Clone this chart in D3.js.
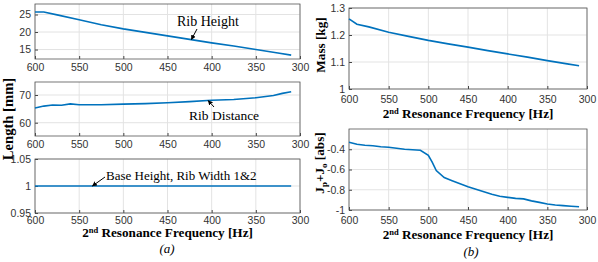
<!DOCTYPE html>
<html>
<head>
<meta charset="utf-8">
<script src="https://cdn.jsdelivr.net/npm/d3@7"></script>
<style>
body { margin: 0; background: #fff; }
svg { display: block; }
.tick text { font-family: Arial, "Liberation Sans", sans-serif; font-size: 10.5px; fill: #333; }
.lab { font-family: "Liberation Serif", "Times New Roman", serif; font-weight: bold; font-size: 13.2px; fill: #000; }
.ann { font-family: "Liberation Serif", "Times New Roman", serif; font-size: 13px; fill: #000; }
.cap { font-family: "Liberation Serif", "Times New Roman", serif; font-style: italic; font-size: 13px; fill: #000; }
</style>
</head>
<body>
<div id="chart"></div>
<script>
// frequencies (Hz) and values
var freqTicks = [600, 550, 500, 450, 400, 350, 300];

var ribHeightF = [600, 590, 575, 550, 525, 500, 475, 450, 425, 400, 375, 350, 325, 310];
var ribHeight  = [25.7, 25.7, 24.9, 23.5, 22.1, 20.9, 19.9, 18.9, 17.9, 16.9, 16.0, 15.0, 14.0, 13.4];

var ribDistF = [600, 590, 580, 570, 560, 550, 525, 500, 475, 450, 425, 400, 375, 350, 330, 320, 310];
var ribDist  = [65.3, 66.0, 66.4, 66.3, 66.8, 66.5, 66.5, 66.7, 66.9, 67.2, 67.6, 68.1, 68.4, 69.0, 69.8, 70.6, 71.2];

var baseF = [600, 310];
var baseVal = [1, 1];

var massF = [600, 590, 575, 550, 525, 500, 475, 450, 425, 400, 375, 350, 325, 310];
var mass  = [1.26, 1.24, 1.23, 1.21, 1.195, 1.18, 1.167, 1.155, 1.142, 1.13, 1.118, 1.105, 1.093, 1.086];

var jF = [600, 590, 580, 570, 560, 550, 540, 530, 520, 510, 500, 495, 490, 480, 470, 460, 450, 440, 430, 420, 410, 400, 390, 380, 370, 360, 350, 340, 330, 320, 310];
var jVal = [-0.33, -0.35, -0.36, -0.365, -0.375, -0.38, -0.39, -0.40, -0.405, -0.41, -0.46, -0.53, -0.61, -0.68, -0.71, -0.74, -0.77, -0.795, -0.82, -0.845, -0.865, -0.875, -0.885, -0.89, -0.91, -0.925, -0.94, -0.95, -0.957, -0.963, -0.968];

var panels = [
  {x0: 35, x1: 300, y0: 4, y1: 59, dom: [12.3, 28], ticks: [15, 20, 25], f: ribHeightF, v: ribHeight, pad: 5},
  {x0: 35, x1: 300, y0: 82, y1: 136, dom: [55.2, 74.7], ticks: [60, 70], f: ribDistF, v: ribDist, pad: 5},
  {x0: 35, x1: 300, y0: 159, y1: 213, dom: [0.95, 1.05], ticks: [0.95, 1, 1.05], f: baseF, v: baseVal, pad: 4, xlab: 24},
  {x0: 349, x1: 587, y0: 8, y1: 89, dom: [1, 1.3], ticks: [1, 1.1, 1.2, 1.3], f: massF, v: mass, pad: 7, xlab: 29},
  {x0: 349, x1: 587, y0: 129, y1: 210, dom: [-1, -0.2], ticks: [-1, -0.8, -0.6, -0.4], f: jF, v: jVal, pad: 7, xlab: 29}
];

var svg = d3.select("#chart").append("svg")
  .attr("width", 598).attr("height", 262);

panels.forEach(function (p) {
  var x = d3.scaleLinear().domain([600, 300]).range([p.x0, p.x1]);
  var y = d3.scaleLinear().domain(p.dom).range([p.y1, p.y0]);
  p.x = x; p.y = y;
  var g = svg.append("g");

  // grid
  g.selectAll(".gx").data(freqTicks).enter().append("line")
    .attr("x1", x).attr("x2", x).attr("y1", p.y0).attr("y2", p.y1)
    .attr("stroke", "#e3e3e3").attr("stroke-width", 1);
  g.selectAll(".gy").data(p.ticks).enter().append("line")
    .attr("x1", p.x0).attr("x2", p.x1).attr("y1", y).attr("y2", y)
    .attr("stroke", "#e3e3e3").attr("stroke-width", 1);

  // axes
  var xa = g.append("g").attr("transform", "translate(0," + p.y1 + ")")
    .call(d3.axisBottom(x).tickValues(freqTicks).tickSize(-3).tickPadding(p.pad).tickFormat(d3.format("d")));
  var ya = g.append("g").attr("transform", "translate(" + p.x0 + ",0)")
    .call(d3.axisLeft(y).tickValues(p.ticks).tickSize(-3).tickPadding(4).tickFormat(function (d) { return +d.toFixed(2); }));
  [xa, ya].forEach(function (a) {
    a.select(".domain").remove();
    a.selectAll(".tick line").attr("stroke", "#444");
  });

  g.append("rect")
    .attr("x", p.x0).attr("y", p.y0)
    .attr("width", p.x1 - p.x0).attr("height", p.y1 - p.y0)
    .attr("fill", "none").attr("stroke", "#555").attr("stroke-width", 0.8);

  var pts = p.f.map(function (d, i) { return [d, p.v[i]]; });
  g.append("path")
    .datum(pts)
    .attr("fill", "none")
    .attr("stroke", "#0072BD")
    .attr("stroke-width", 1.6)
    .attr("d", d3.line().x(function (d) { return x(d[0]); }).y(function (d) { return y(d[1]); }));

  if (p.xlab) {
    var t = g.append("text").attr("class", "lab")
      .attr("x", (p.x0 + p.x1) / 2).attr("y", p.y1 + p.xlab)
      .attr("text-anchor", "middle");
    t.append("tspan").text("2");
    t.append("tspan").attr("font-size", "8.5px").attr("dy", -4).text("nd");
    t.append("tspan").attr("dy", 4).text(" Resonance Frequency [Hz]");
  }
});

// y labels
svg.append("text").attr("class", "lab").style("font-size", "14.6px")
  .attr("transform", "translate(13,119) rotate(-90)")
  .attr("text-anchor", "middle").text("Length [mm]");
svg.append("text").attr("class", "lab")
  .attr("transform", "translate(325,45) rotate(-90)")
  .attr("text-anchor", "middle").text("Mass [kg]");
var jl = svg.append("text").attr("class", "lab")
  .attr("transform", "translate(324,163) rotate(-90)")
  .attr("text-anchor", "middle");
jl.append("tspan").text("J");
jl.append("tspan").attr("font-size", "9px").attr("dy", 3).text("p");
jl.append("tspan").attr("dy", -3).text("+J");
jl.append("tspan").attr("font-size", "9px").attr("dy", 3).text("o");
jl.append("tspan").attr("dy", -3).text(" [abs]");

// captions
svg.append("text").attr("class", "cap").attr("x", 167).attr("y", 253).attr("text-anchor", "middle").text("(a)");
svg.append("text").attr("class", "cap").attr("x", 471).attr("y", 256).attr("text-anchor", "middle").text("(b)");

// annotations
svg.append("defs").append("marker")
  .attr("id", "ah").attr("viewBox", "0 0 10 10").attr("refX", 9).attr("refY", 5)
  .attr("markerWidth", 5).attr("markerHeight", 5).attr("orient", "auto")
  .append("path").attr("d", "M0,0L10,5L0,10z").attr("fill", "#000");

var anns = [
  {text: "Rib Height", tx: 177, ty: 26, anchor: "start", size: "14px", p: 0, f: 423, from: [197, 29]},
  {text: "Rib Distance", tx: 189, ty: 120, anchor: "start", size: "13.5px", p: 1, f: 404, from: [214, 107]},
  {text: "Base Height, Rib Width 1&2", tx: 106, ty: 180, anchor: "start", size: "13px", p: 2, f: 535, from: [105, 177]}
];
anns.forEach(function (a) {
  var p = panels[a.p];
  var vi = d3.bisector(function (d) { return -d; }).left(p.f, -a.f);
  var v = p.v[Math.min(vi, p.v.length - 1)];
  if (vi > 0 && vi < p.f.length) {
    var t = (p.f[vi - 1] - a.f) / (p.f[vi - 1] - p.f[vi]);
    v = p.v[vi - 1] + t * (p.v[vi] - p.v[vi - 1]);
  }
  svg.append("line")
    .attr("x1", a.from[0]).attr("y1", a.from[1])
    .attr("x2", p.x(a.f)).attr("y2", p.y(v))
    .attr("stroke", "#000").attr("stroke-width", 1)
    .attr("marker-end", "url(#ah)");
  svg.append("text").attr("class", "ann").style("font-size", a.size)
    .attr("x", a.tx).attr("y", a.ty).attr("text-anchor", a.anchor).text(a.text);
});
</script>
</body>
</html>
